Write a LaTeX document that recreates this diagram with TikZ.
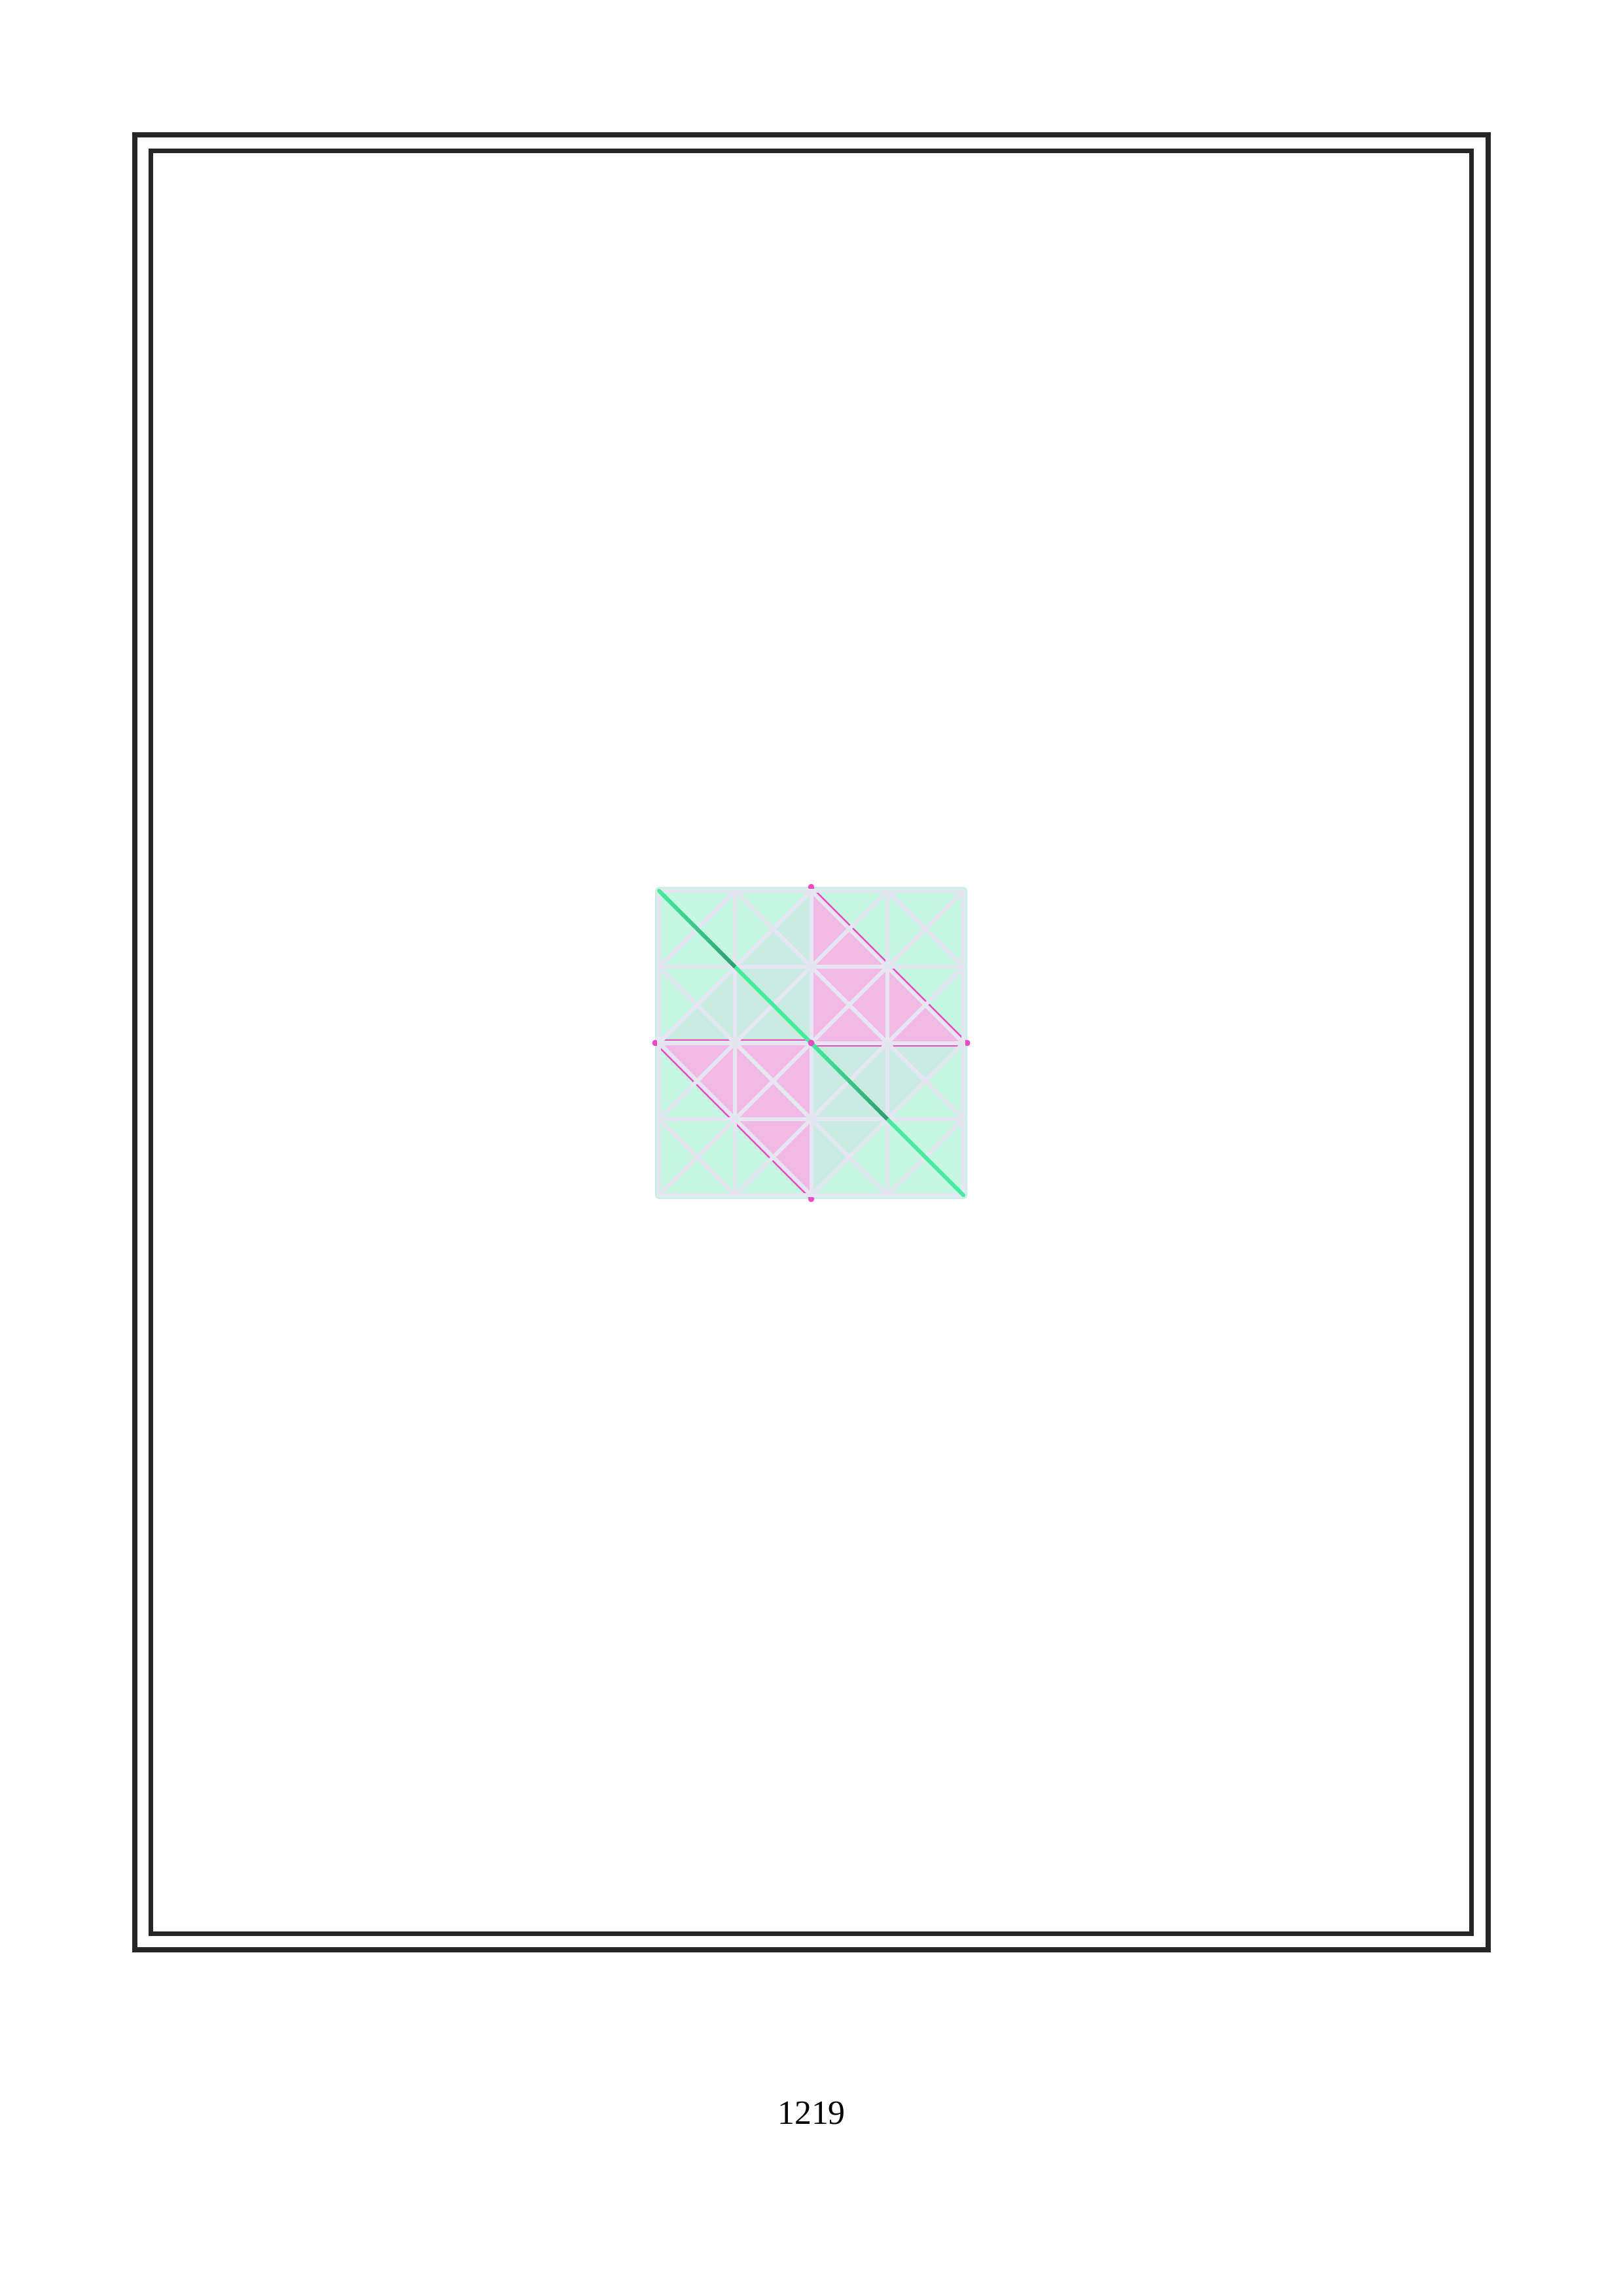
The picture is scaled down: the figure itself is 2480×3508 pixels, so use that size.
\documentclass[tikz,border=0pt]{standalone}
\usepackage{fontspec}
\setmainfont{Liberation Serif}
\definecolor{mintL}{HTML}{C6F7E3}
\definecolor{mintD}{HTML}{C9EBE1}
\definecolor{pinkF}{HTML}{F2B9E6}
\definecolor{magentaC}{HTML}{E84CC0}
\definecolor{lav}{HTML}{E6E6F3}
\definecolor{lavEdge}{HTML}{D3E6EC}
\definecolor{gbright}{HTML}{42EC9A}
\definecolor{gdark}{HTML}{2F8A68}
\definecolor{frameC}{HTML}{262626}
\def\px{0.24094pt}
\begin{document}
\begin{tikzpicture}[x=0.0846774mm,y=-0.0846774mm,
  frameline/.style={draw=frameC},
  gridline/.style={draw=lav, line width=6*\px, line cap=round},
  hypline/.style={draw=magentaC, line width=3*\px},
  greenseg/.style={line width=6*\px, line cap=butt},
  dotstyle/.style={fill=magentaC}]
\useasboundingbox (0,0) rectangle (2480,3508);
% frame
\draw[frameline, line width=8*\px] (206,206) rectangle (2274,2979);
\draw[frameline, line width=7*\px] (230.5,230.5) rectangle (2248,2954);
% page number
\node[anchor=base, font=\fontsize{12.5}{15}\selectfont] (pagenum) at (1240,3245) {1219};
% pattern
\begin{scope}[shift={(1007,1361)}, x=9.8438mm, y=-9.8438mm]
  \fill[mintL, draw=lavEdge, line width=1.5*\px, rounded corners=1.2pt] (-0.045,-0.045) rectangle (4.045,4.045);
  % quadrant fills
  \fill[mintD] (2,0) -- (0,2) -- (2,2) -- cycle;
  \fill[mintD] (2,2) -- (4,2) -- (2,4) -- cycle;
  \fill[pinkF] (2,0) -- (2,2) -- (4,2) -- cycle;
  \fill[pinkF] (0,2) -- (2,2) -- (2,4) -- cycle;
  % magenta edges
  \draw[hypline] (2.026,-0.026) -- (4.026,1.974);
  \draw[hypline] (-0.026,2.026) -- (1.974,4.026);
  \draw[magentaC, line width=2*\px] (2.03,2.035) -- (3.97,2.035);
  \draw[magentaC, line width=2*\px] (0.03,1.965) -- (1.97,1.965);
  % edge dots
  \fill[dotstyle] (-0.05,2) circle[radius=1.15pt];
  \fill[dotstyle] (4.05,2) circle[radius=1.15pt];
  \fill[dotstyle] (2,-0.05) circle[radius=1.15pt];
  \fill[dotstyle] (2,4.05) circle[radius=1.15pt];
  % lavender grid
  \foreach \i in {0,...,4} {
    \draw[gridline] (\i,0) -- (\i,4);
    \draw[gridline] (0,\i) -- (4,\i);
  }
  \foreach \i in {0,...,3} {
    \foreach \j in {0,...,3} {
      \draw[gridline] (\i,\j) -- ({\i+1},{\j+1});
      \draw[gridline] ({\i+1},\j) -- (\i,{\j+1});
    }
  }
  % green diagonal
  \draw[gbright, line width=6*\px, line cap=round] (0,0) -- (4,4);
  \foreach \s in {0,2} {
    \foreach \k in {0,...,19} {
      \pgfmathsetmacro\t{4.2*\k}
      \draw[greenseg, draw=gdark!\t!gbright] ({\s+\k/20},{\s+\k/20}) -- ({\s+(\k+1)/20},{\s+(\k+1)/20});
    }
  }
  % centre dot
  \fill[dotstyle] (2,2) circle[radius=1.2pt];
\end{scope}
\end{tikzpicture}
\end{document}
